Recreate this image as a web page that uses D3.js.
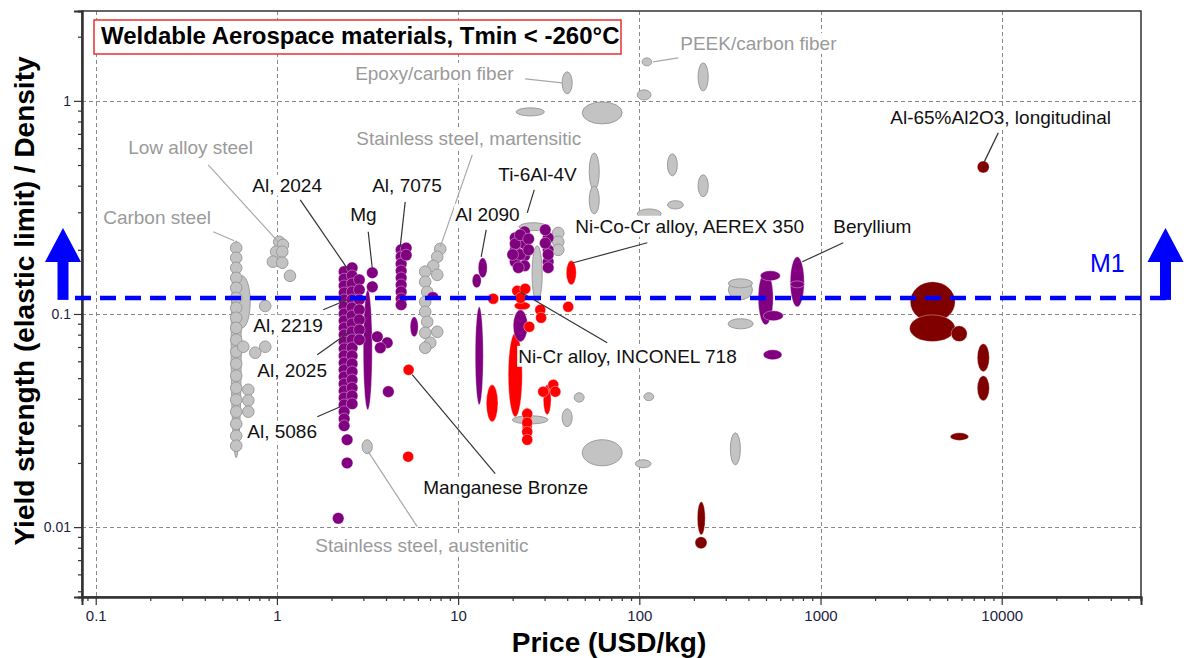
<!DOCTYPE html>
<html>
<head>
<meta charset="utf-8">
<script src="https://cdn.jsdelivr.net/npm/d3@7"></script>
<style>
body{margin:0;background:#fff;}
svg{display:block;font-family:"Liberation Sans",Arial,sans-serif;}
</style>
</head>
<body>
<svg id="chart" width="1184" height="658"></svg>
<script>
// axis ticks
const xTickValues = [0.1, 1, 10, 100, 1000, 10000];
const xTickLabels = ['0.1', '1', '10', '100', '1000', '10000'];
const yTickValues = [0.01, 0.1, 1];
const yTickLabels = ['0.01', '0.1', '1'];

// material bubbles: [price lo, price hi, yield/density lo, yield/density hi]
const grayRanges = [
  [0.559, 0.635, 0.0212, 0.2205], [0.581, 0.712, 0.0861, 0.151],
  [21.7, 31.0, 0.246, 0.268], [25.6, 29.1, 0.114, 0.209],
  [2.95, 3.36, 0.0221, 0.0257],
  [37.5, 42.6, 1.079, 1.368], [20.9, 29.9, 0.85, 0.927], [48.4, 80.4, 0.78, 0.989],
  [97.4, 116, 1.01, 1.126], [103.6, 117, 1.46, 1.59], [211, 240, 1.114, 1.507],
  [52.9, 60.1, 0.382, 0.570], [52.9, 60.1, 0.295, 0.399], [143, 162, 0.445, 0.564],
  [211, 240, 0.355, 0.45], [143, 175, 0.311, 0.34], [97.4, 132, 0.28, 0.311],
  [310, 421, 0.1166, 0.1447], [310, 421, 0.1327, 0.1462], [309, 425, 0.0852, 0.095],
  [318, 361, 0.0196, 0.0277], [106, 120, 0.0392, 0.0427], [43.7, 49.6, 0.0386, 0.0427],
  [37.5, 42.6, 0.0296, 0.0359], [48.4, 80.4, 0.0194, 0.0257], [95, 116, 0.019, 0.0207],
  [19.9, 31.4, 0.0305, 0.0333]
];
// single grades: [price, yield/density]
const grayPoints = [
  [0.596, 0.2044], [0.596, 0.1835], [0.596, 0.1647], [0.596, 0.1478], [0.596, 0.1327],
  [0.596, 0.1191], [0.596, 0.1069], [0.596, 0.0960], [0.596, 0.0861], [0.596, 0.0757],
  [0.596, 0.0665], [0.596, 0.0584], [0.596, 0.0513], [0.596, 0.0450], [0.596, 0.0396],
  [0.596, 0.0348], [0.596, 0.0305], [0.596, 0.0268], [0.596, 0.0241],
  [0.652, 0.0702], [0.759, 0.0658],
  [1.03, 0.218], [1.08, 0.211], [0.99, 0.196], [1.07, 0.196], [0.95, 0.176], [1.07, 0.174], [1.18, 0.151],
  [0.862, 0.109], [0.862, 0.0702], [0.695, 0.0441], [0.695, 0.0393], [0.695, 0.0348],
  [7.97, 0.202], [7.67, 0.1855], [7.29, 0.168], [7.67, 0.1527], [6.58, 0.158], [6.58, 0.1416],
  [6.75, 0.127], [6.58, 0.114], [6.58, 0.1024], [6.75, 0.0919], [6.58, 0.0816], [7.02, 0.0733],
  [7.67, 0.0825], [6.58, 0.0694],
  [35.7, 0.240], [35.7, 0.218], [35.7, 0.200]
];
const purpleRanges = [
  [2.995, 3.357, 0.0355, 0.1299], [6.75, 7.77, 0.1166, 0.1271], [5.44, 6.02, 0.0781, 0.0970],
  [12.91, 14.47, 0.1478, 0.1835], [11.96, 13.41, 0.1327, 0.1544], [12.43, 13.76, 0.0375, 0.108],
  [20.14, 24.18, 0.0741, 0.1046],
  [680.8, 813, 0.108, 0.1855], [680.8, 813, 0.1327, 0.143],
  [453, 548, 0.089, 0.158], [465, 600, 0.1431, 0.1594], [483, 623, 0.0929, 0.1035], [483, 613, 0.061, 0.0679]
];
const purplePoints = [
  [2.35, 0.158], [2.35, 0.146], [2.35, 0.1356], [2.35, 0.1257], [2.35, 0.1166], [2.35, 0.1081],
  [2.35, 0.1002], [2.35, 0.0929], [2.35, 0.0861], [2.35, 0.0799], [2.35, 0.0741], [2.35, 0.0687],
  [2.35, 0.0637], [2.35, 0.0590], [2.35, 0.0547], [2.35, 0.0507], [2.35, 0.0470], [2.35, 0.0436],
  [2.35, 0.0404], [2.35, 0.0375], [2.35, 0.0348], [2.35, 0.0322], [2.35, 0.0299],
  [2.60, 0.1647], [2.60, 0.1511], [2.60, 0.1386], [2.60, 0.1271], [2.60, 0.1166], [2.60, 0.1069],
  [2.60, 0.0981], [2.60, 0.0900], [2.60, 0.0825], [2.60, 0.0757], [2.60, 0.0694], [2.60, 0.0637],
  [2.60, 0.0584], [2.60, 0.0536], [2.60, 0.0491], [2.60, 0.0450], [2.60, 0.0413], [2.60, 0.0379],
  [2.85, 0.1447], [2.85, 0.1299], [2.85, 0.1166], [2.85, 0.1046], [2.85, 0.0939], [2.85, 0.0843], [2.85, 0.0757],
  [3.36, 0.1561], [3.36, 0.1341],
  [3.58, 0.0782], [4.06, 0.0733], [3.72, 0.0694], [4.12, 0.0432], [2.44, 0.0257], [2.44, 0.0200], [2.18, 0.0110],
  [4.85, 0.200], [4.85, 0.1855], [4.85, 0.1719], [4.85, 0.1594], [4.85, 0.1478], [4.85, 0.1371],
  [4.85, 0.1271], [4.85, 0.1179], [4.85, 0.1105], [5.17, 0.204], [5.17, 0.189],
  [20.66, 0.2277], [20.66, 0.200], [20.66, 0.1757], [23.27, 0.243], [23.27, 0.2135], [23.27, 0.1875],
  [23.27, 0.1683], [31.4, 0.2277], [31.4, 0.200], [31.4, 0.1757], [30.25, 0.2482],
  [20.66, 0.2135], [22.0, 0.235], [22.0, 0.19], [20.0, 0.19], [31.4, 0.19], [30.25, 0.215],
  [31.4, 0.165], [21.5, 0.165], [24.5, 0.225], [24.5, 0.2]
];
const redRanges = [
  [39.5, 44.9, 0.137, 0.178], [20.4, 25.0, 0.1046, 0.114], [18.9, 22.6, 0.0329, 0.0816],
  [14.3, 16.6, 0.0312, 0.0465], [29.5, 32.6, 0.0337, 0.0465], [22.6, 25.6, 0.0243, 0.0363]
];
const redPoints = [
  [15.62, 0.1179], [21.2, 0.1285], [23.46, 0.1313], [22.1, 0.119], [24.7, 0.0871], [28.4, 0.1046],
  [28.7, 0.096], [40.5, 0.1081], [33.5, 0.0465], [29.5, 0.0432], [34.4, 0.0432],
  [24.06, 0.034], [24.06, 0.0309], [24.06, 0.028], [24.06, 0.0257], [5.30, 0.0214], [5.33, 0.0547]
];
const darkRedRanges = [
  [3127, 5535, 0.0919, 0.1416], [3100, 5535, 0.0742, 0.099], [5260, 6449, 0.0742, 0.088],
  [7329, 8546, 0.0536, 0.0725], [7329, 8546, 0.0392, 0.0513], [5199, 6569, 0.0255, 0.0277],
  [209, 231, 0.00921, 0.01316]
];
const darkRedPoints = [[7906, 0.49], [219, 0.00845]];

// annotations: [text, price, yield/density, gray?]
const labels = [
  ['Carbon steel', 0.581, 0.2205, true],
  ['Low alloy steel', 1.017, 0.218, true],
  ['Al, 2024', 2.475, 0.1612, false],
  ['Mg', 3.357, 0.1647, false],
  ['Al, 7075', 4.79, 0.2065, false],
  ['Stainless steel, martensitic', 7.97, 0.2065, true],
  ['Ti-6Al-4V', 24.07, 0.2983, false],
  ['Al 2090', 13.41, 0.1855, false],
  ['Ni-Co-Cr alloy, AEREX 350', 43.2, 0.1739, false],
  ['Beryllium', 793, 0.1757, false],
  ['Al-65%Al2O3, longitudinal', 8008, 0.5173, false],
  ['PEEK/carbon fiber', 119.3, 1.523, true],
  ['Epoxy/carbon fiber', 37.5, 1.215, true],
  ['Al, 2219', 2.443, 0.1166, false],
  ['Al, 2025', 2.475, 0.0816, false],
  ['Al, 5086', 2.236, 0.0367, false],
  ['Manganese Bronze', 5.58, 0.0519, false],
  ['Ni-Cr alloy, INCONEL 718', 22.0, 0.1271, false],
  ['Stainless steel, austenitic', 3.19, 0.0226, true]
];
// pixel offsets from the target: [text dx, text dy, leader dx, leader dy]
const labelOffsets = [
  [-131, -17, -21, -9], [-150, -88, -70, -77], [-96, -78, -48, -70], [-22, -47, -4, -36],
  [-28, -55, 5, -45], [-84, -102, 32, -92], [-29, -32, 7, -23], [-26, -36, 5, -27],
  [2, -30, 74, -20], [31, -29, 41, -19], [-94, -38, 14, -29], [27, -12, 25, -4],
  [-207, -3, -37, -4], [-94, 32, -24, 10], [-91, 44, -31, 22], [-93, 31, -23, 10],
  [11, 119, 83, 99], [-2, 71, 87, 51], [-53, 100, 49, 75]
];

const M1 = 0.119;
const title = 'Weldable Aerospace materials, Tmin < -260°C';

const plot = {left: 82, right: 1141, top: 11, bottom: 597};
const x = d3.scaleLog().domain([0.084, 58700]).range([plot.left, plot.right]);
const y = d3.scaleLog().domain([0.0047, 2.64]).range([plot.bottom, plot.top]);

const svg = d3.select('#chart');
const isDecade = d => Math.abs(Math.log10(d) - Math.round(Math.log10(d))) < 1e-9;

svg.append('defs').append('clipPath').attr('id', 'clip')
  .append('rect').attr('x', plot.left).attr('y', plot.top)
  .attr('width', plot.right - plot.left).attr('height', plot.bottom - plot.top);

// grid
const grid = svg.append('g').attr('stroke', '#8a8a8a').attr('stroke-dasharray', '4,3').attr('stroke-width', 1);
grid.selectAll('.gx').data(xTickValues).join('line')
  .attr('x1', d => Math.round(x(d)) + 0.5).attr('x2', d => Math.round(x(d)) + 0.5)
  .attr('y1', plot.top).attr('y2', plot.bottom);
grid.selectAll('.gy').data(yTickValues).join('line')
  .attr('y1', d => Math.round(y(d)) + 0.5).attr('y2', d => Math.round(y(d)) + 0.5)
  .attr('x1', plot.left).attr('x2', plot.right);

const marks = svg.append('g').attr('clip-path', 'url(#clip)');

function drawRanges(data, fill, stroke) {
  marks.append('g').selectAll('ellipse').data(data).join('ellipse')
    .attr('cx', d => (x(d[0]) + x(d[1])) / 2)
    .attr('rx', d => (x(d[1]) - x(d[0])) / 2)
    .attr('cy', d => (y(d[2]) + y(d[3])) / 2)
    .attr('ry', d => (y(d[2]) - y(d[3])) / 2)
    .attr('fill', fill).attr('stroke', stroke).attr('stroke-width', 1);
}
function drawPoints(data, fill, stroke, r) {
  marks.append('g').selectAll('circle').data(data).join('circle')
    .attr('cx', d => x(d[0])).attr('cy', d => y(d[1])).attr('r', r)
    .attr('fill', fill).attr('stroke', stroke).attr('stroke-width', 1);
}

drawRanges(grayRanges, '#c3c3c3', '#9c9c9c');
drawPoints(grayPoints, '#c3c3c3', '#9c9c9c', 5.8);
drawRanges(redRanges, '#ff0000', 'rgba(255,255,255,0.4)');
drawRanges(purpleRanges, '#800080', 'rgba(255,255,255,0.35)');
drawPoints(purplePoints, '#800080', 'rgba(255,255,255,0.35)', 5.8);
drawPoints(redPoints, '#ff0000', 'rgba(255,255,255,0.4)', 5.5);
drawRanges(darkRedRanges, '#800000', 'rgba(255,255,255,0.35)');
drawPoints(darkRedPoints, '#800000', 'rgba(255,255,255,0.35)', 6);

// labels
const lab = svg.append('g').attr('font-size', 19);
labels.forEach((l, i) => {
  const [text, p, v, gray] = l;
  const [tdx, tdy, ldx, ldy] = labelOffsets[i];
  const tx = x(p), ty = y(v);
  lab.append('line').attr('x1', tx + ldx).attr('y1', ty + ldy).attr('x2', tx).attr('y2', ty)
    .attr('stroke', gray ? '#a8a8a8' : '#333').attr('stroke-width', 1.2);
  const bg = lab.append('rect').attr('fill', '#fff');
  const t = lab.append('text').attr('x', tx + tdx).attr('y', ty + tdy)
    .attr('fill', gray ? '#9a9a9a' : '#111').text(text);
  const b = t.node().getBBox();
  bg.attr('x', b.x - 1).attr('y', b.y).attr('width', b.width + 2).attr('height', b.height);
});

// frame
svg.append('rect').attr('x', plot.left).attr('y', plot.top)
  .attr('width', plot.right - plot.left).attr('height', plot.bottom - plot.top)
  .attr('fill', 'none').attr('stroke', '#333').attr('stroke-width', 1.5);

// axes
const yMinorVals = y.ticks(20).filter(d => !isDecade(d));
const xMinorVals = x.ticks(40).filter(d => !isDecade(d));
const yAxis = svg.append('g').attr('transform', `translate(${plot.left},0)`)
  .call(d3.axisLeft(y).tickValues(yTickValues).tickFormat((d, i) => yTickLabels[i]).tickSize(8).tickPadding(3));
svg.append('g').attr('transform', `translate(${plot.left},0)`)
  .call(d3.axisLeft(y).tickValues(yMinorVals).tickFormat('').tickSize(4));
const xAxis = svg.append('g').attr('transform', `translate(0,${plot.bottom})`)
  .call(d3.axisBottom(x).tickValues(xTickValues).tickFormat((d, i) => xTickLabels[i]).tickSize(8).tickPadding(5));
svg.append('g').attr('transform', `translate(0,${plot.bottom})`)
  .call(d3.axisBottom(x).tickValues(xMinorVals).tickFormat('').tickSize(4));
svg.selectAll('.domain').attr('stroke', '#333').attr('stroke-width', 2);
svg.selectAll('.tick line').attr('stroke', '#333').attr('stroke-width', 1.2);
yAxis.selectAll('text').attr('font-size', 14).attr('fill', '#1c1c3c').attr('font-family', '"Liberation Sans",Arial,sans-serif');
xAxis.selectAll('text').attr('font-size', 15).attr('fill', '#1c1c3c').attr('font-family', '"Liberation Sans",Arial,sans-serif');

// axis titles
svg.append('text').attr('transform', 'translate(34,301) rotate(-90)').attr('text-anchor', 'middle')
  .attr('font-size', 28).attr('font-weight', 'bold').attr('fill', '#000')
  .text('Yield strength (elastic limit) / Density');
svg.append('text').attr('x', 609).attr('y', 652).attr('text-anchor', 'middle')
  .attr('font-size', 28).attr('font-weight', 'bold').attr('fill', '#000').text('Price (USD/kg)');

// title box
svg.append('rect').attr('x', 94).attr('y', 20).attr('width', 527).attr('height', 34)
  .attr('fill', '#fff').attr('stroke', '#e83030').attr('stroke-width', 1.5);
svg.append('text').attr('x', 101).attr('y', 44).attr('font-size', 24).attr('font-weight', 'bold')
  .attr('fill', '#000').text(title);

// M1 selection line
const ly = y(M1);
svg.append('line').attr('x1', 75).attr('x2', 1166).attr('y1', ly).attr('y2', ly)
  .attr('stroke', '#0000ff').attr('stroke-width', 4.5).attr('stroke-dasharray', '16,9');
[63, 1165.5].forEach(ax => {
  svg.append('rect').attr('x', ax - 5.5).attr('y', ly - 38).attr('width', 11).attr('height', 40).attr('fill', '#0000ff');
  svg.append('path').attr('d', `M${ax - 18},${ly - 36}L${ax},${ly - 70}L${ax + 18},${ly - 36}Z`).attr('fill', '#0000ff');
});
svg.append('text').attr('x', 1090).attr('y', ly - 26).attr('font-size', 25).attr('fill', '#0000ff').text('M1');
</script>
</body>
</html>
